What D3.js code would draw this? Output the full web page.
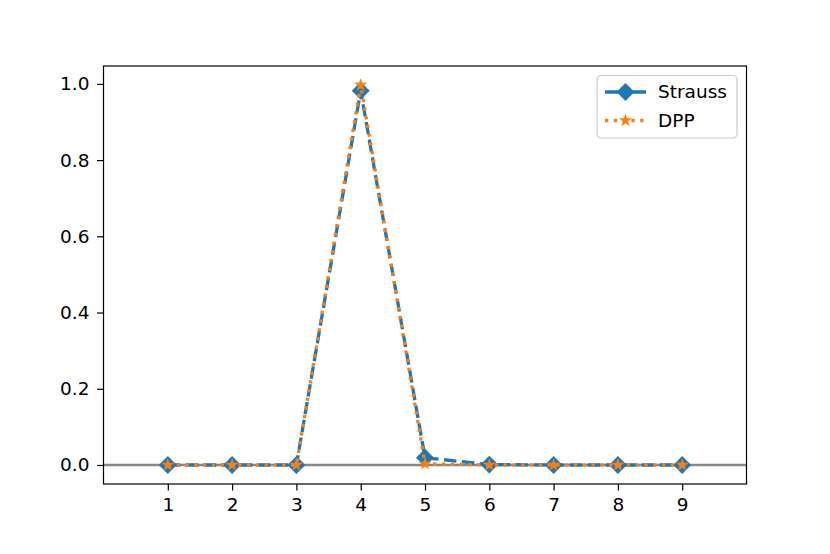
<!DOCTYPE html>
<html>
  <head>
    <meta charset="utf-8">
    <script src="https://d3js.org/d3.v7.min.js"></script>
    <style>
      body { margin: 0; background: #fff; }
      text { font-family: "DejaVu Sans", sans-serif; }
    </style>
  </head>
  <body>
    <div class="chart"></div>
    <script>
      // data
      var xs = [1, 2, 3, 4, 5, 6, 7, 8, 9];
      var strauss = [0, 0, 0, 0.982, 0.019, 0.001, 0, 0, 0];
      var dpp = [0, 0, 0, 0.997, 0.003, 0, 0, 0, 0];
      var yTicks = [0.0, 0.2, 0.4, 0.6, 0.8, 1.0];
      var seriesNames = ["Strauss", "DPP"];

      var W = 830, H = 554;
      var pLeft = 103.5, pRight = 746.5, pTop = 66, pBottom = 484;
      var fontSize = 18.5;

      var x = d3.scaleLinear().domain([0, 10]).range([pLeft, pRight]);
      var y = d3.scaleLinear().domain([-0.0499, 1.0469]).range([pBottom, pTop]);

      var svg = d3.select(".chart").append("svg")
        .attr("width", W)
        .attr("height", H);

      svg.append("clipPath").attr("id", "clip")
        .append("rect")
        .attr("x", pLeft).attr("y", pTop)
        .attr("width", pRight - pLeft).attr("height", pBottom - pTop);

      // zero line
      svg.append("line")
        .attr("x1", pLeft).attr("x2", pRight)
        .attr("y1", y(0)).attr("y2", y(0))
        .attr("stroke", "#888")
        .attr("stroke-width", 2.5);

      var line = d3.line()
        .x(function(d) { return x(d[0]); })
        .y(function(d) { return y(d[1]); });

      var sData = xs.map(function(v, i) { return [v, strauss[i]]; });
      var dData = xs.map(function(v, i) { return [v, dpp[i]]; });

      var plot = svg.append("g").attr("clip-path", "url(#clip)");

      plot.append("path")
        .attr("d", line(sData))
        .attr("fill", "none")
        .attr("stroke", "#1f77b4")
        .attr("stroke-width", 3.3)
        .attr("stroke-dasharray", "12.5,5.5");

      var diamond = d3.symbol().type(d3.symbolSquare).size(160);
      plot.selectAll(".dia")
        .data(sData)
        .enter().append("path")
          .attr("class", "dia")
          .attr("d", diamond)
          .attr("transform", function(d) { return "translate(" + x(d[0]) + "," + y(d[1]) + ") rotate(45)"; })
          .attr("fill", "#1f77b4");

      plot.append("path")
        .attr("d", line(dData))
        .attr("fill", "none")
        .attr("stroke", "#ff7f0e")
        .attr("stroke-width", 3.3)
        .attr("stroke-dasharray", "3.3,5.5");

      var star = d3.symbol().type(d3.symbolStar).size(55);
      plot.selectAll(".star")
        .data(dData)
        .enter().append("path")
          .attr("class", "star")
          .attr("d", star)
          .attr("transform", function(d) { return "translate(" + x(d[0]) + "," + y(d[1]) + ")"; })
          .attr("fill", "#ff7f0e");

      // axes
      var xAxis = svg.append("g")
        .attr("transform", "translate(0," + pBottom + ")")
        .call(d3.axisBottom(x).tickValues(xs).tickSize(6.5).tickPadding(7).tickFormat(d3.format("d")));
      var yAxis = svg.append("g")
        .attr("transform", "translate(" + pLeft + ",0)")
        .call(d3.axisLeft(y).tickValues(yTicks).tickSize(6.5).tickPadding(7.5).tickFormat(d3.format(".1f")));

      [xAxis, yAxis].forEach(function(a) {
        a.select(".domain").remove();
        a.selectAll(".tick line").attr("stroke", "#000").attr("stroke-width", 1.2);
        a.selectAll("text").attr("font-size", fontSize).attr("font-family", "DejaVu Sans").attr("fill", "#000");
      });

      svg.append("rect")
        .attr("x", pLeft).attr("y", pTop)
        .attr("width", pRight - pLeft).attr("height", pBottom - pTop)
        .attr("fill", "none")
        .attr("stroke", "#000")
        .attr("stroke-width", 1.2);

      // legend
      var lg = svg.append("g").attr("transform", "translate(597,75.5)");
      lg.append("rect")
        .attr("width", 140).attr("height", 62.5)
        .attr("rx", 4)
        .attr("fill", "#fff")
        .attr("fill-opacity", 0.8)
        .attr("stroke", "#ccc")
        .attr("stroke-width", 1.2);

      var rows = lg.selectAll(".row")
        .data(seriesNames)
        .enter().append("g")
          .attr("class", "row")
          .attr("transform", function(d, i) { return "translate(0," + (16.5 + i * 28.5) + ")"; });

      rows.append("line")
        .attr("x1", 8).attr("x2", 49)
        .attr("stroke", function(d, i) { return i === 0 ? "#1f77b4" : "#ff7f0e"; })
        .attr("stroke-width", 3.3)
        .attr("stroke-dasharray", function(d, i) { return i === 0 ? null : "3.3,5.5"; });

      rows.append("path")
        .attr("d", function(d, i) { return i === 0 ? diamond() : star(); })
        .attr("transform", function(d, i) { return "translate(28.5,0)" + (i === 0 ? " rotate(45)" : ""); })
        .attr("fill", function(d, i) { return i === 0 ? "#1f77b4" : "#ff7f0e"; });

      rows.append("text")
        .attr("x", 61)
        .attr("dy", "0.35em")
        .attr("font-size", fontSize)
        .text(function(d) { return d; });
    </script>
  </body>
</html>
